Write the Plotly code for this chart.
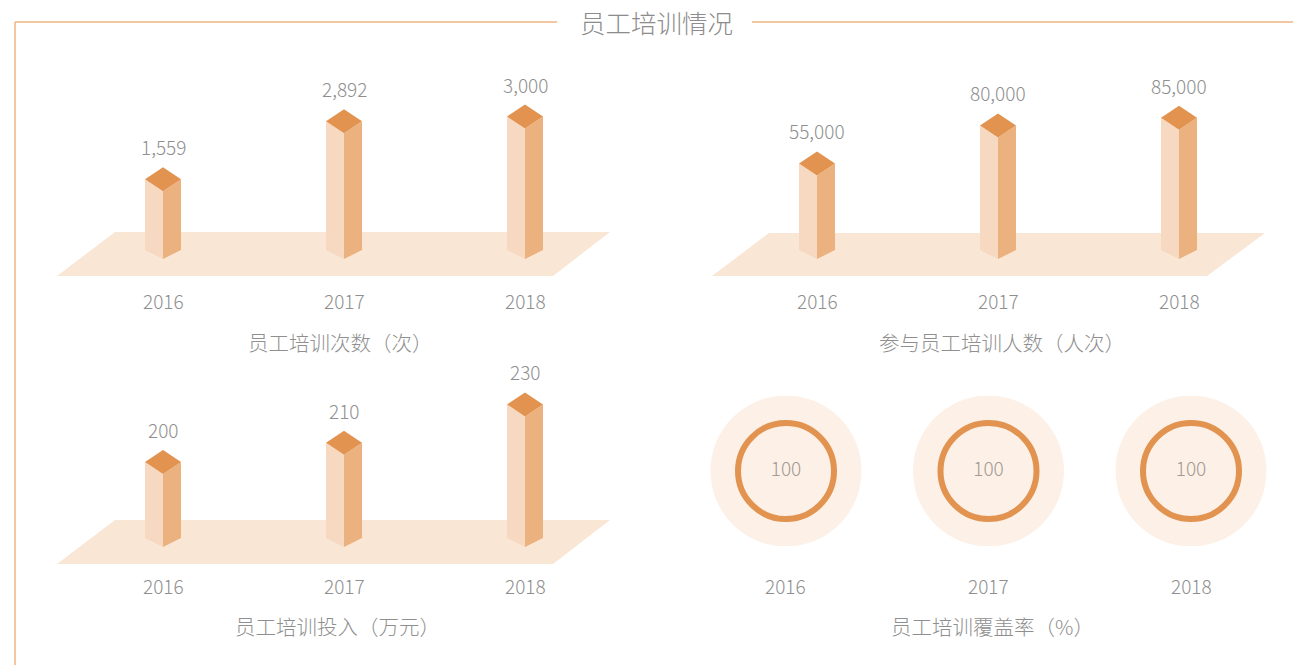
import plotly.graph_objects as go

# data
years = ["2016", "2017", "2018"]
sessions = [1559, 2892, 3000]          # 员工培训次数（次）
participants = [55000, 80000, 85000]   # 参与员工培训人数（人次）
investment = [200, 210, 230]           # 员工培训投入（万元）
coverage = [100, 100, 100]             # 员工培训覆盖率（%）

W, H = 1293, 665
FONT = "Noto Sans CJK SC"
GREY = "#8f8f8f"
TOP = "#e1934f"
FRONT = "#f7d9c1"
SIDE = "#ebb17f"
FLOOR = "#f9e6d5"
PALE = "#fcf0e7"
FRAME = "#efb482"


def xp(p):
    return p / W


def yp(p):
    return 1 - p / H


fig = go.Figure()
annotations = []


def label_font(size=19, color=GREY):
    return dict(family=FONT, size=size, color=color, weight=300)


def bar_panel(n, values, v0, k, base_px, c0, dom_x, dom_y, floor, year_y, subtitle, sub_xy):
    xa, ya = "x%d" % n, "y%d" % n
    s = 181.0
    L, R = dom_x
    T, B = dom_y
    xr = [(L - c0) / s, (R - c0) / s]
    yr = [v0 - (B - base_px) / k, v0 + (base_px - T) / k]
    sfx = "" if n == 1 else str(n)
    fig.layout["xaxis" + sfx] = dict(domain=[xp(L), xp(R)], range=xr, visible=False,
                                     anchor=ya, fixedrange=True)
    fig.layout["yaxis" + sfx] = dict(domain=[yp(B), yp(T)], range=yr, visible=False,
                                     anchor=xa, fixedrange=True)

    def dx(p):
        return p / s

    def dy(p):
        return p / k

    # floor
    (ft, ftl, ftr), (fb, fbl, fbr) = floor
    fx = [dx(ftl - c0), dx(ftr - c0), dx(fbr - c0), dx(fbl - c0), dx(ftl - c0)]
    fy = [v0 + dy(base_px - ft)] * 2 + [v0 - dy(fb - base_px)] * 2 + [v0 + dy(base_px - ft)]
    fig.add_trace(go.Scatter(x=fx, y=fy, xaxis=xa, yaxis=ya, fill="toself", mode="lines",
                             fillcolor=FLOOR, line=dict(width=0, color=FLOOR),
                             hoverinfo="skip", showlegend=False))

    w, t, b, ap = dx(18), dy(12), dy(9), dy(24)
    for i, v in enumerate(values):
        faces = [
            ([i - w, i, i, i - w, i - w], [v0 + b, v0, v, v + t, v0 + b], FRONT),
            ([i, i + w, i + w, i, i], [v0, v0 + b, v + t, v, v0], SIDE),
            ([i, i - w, i, i + w, i], [v, v + t, v + ap, v + t, v], TOP),
        ]
        for x, y, c in faces:
            fig.add_trace(go.Scatter(x=x, y=y, xaxis=xa, yaxis=ya, fill="toself",
                                     mode="lines", fillcolor=c, line=dict(width=0, color=c),
                                     hoverinfo="skip", showlegend=False))
        annotations.append(dict(x=i, y=v + ap, xref=xa, yref=ya, text=f"{v:,}",
                                showarrow=False, yanchor="bottom", yshift=5,
                                font=label_font()))
        annotations.append(dict(x=i, y=yp(year_y), xref=xa, yref="paper", text=years[i],
                                showarrow=False, yanchor="middle", font=label_font()))
    annotations.append(dict(x=xp(sub_xy[0]), y=yp(sub_xy[1]), xref="paper", yref="paper",
                            text=subtitle, showarrow=False, xanchor="center",
                            yanchor="middle", font=label_font(20.5)))


bar_panel(1, sessions, 0, 0.0435, 259, 163, (40, 640), (40, 290),
          ((232, 115, 610), (276, 57, 553)), 300, "员工培训次数（次）", (340, 342))
bar_panel(2, participants, 0, 0.00152, 259, 817, (695, 1285), (40, 290),
          ((233, 769, 1265), (276, 712, 1207)), 300, "参与员工培训人数（人次）", (1002, 342))
bar_panel(3, investment, 162, 1.92, 547, 163, (40, 640), (360, 578),
          ((520, 115, 610), (564, 57, 553)), 585, "员工培训投入（万元）", (337, 626))

# coverage rings
c0, s = 786, 202.5
L, R, T, B = 690, 1290, 396, 546
fig.layout["xaxis4"] = dict(domain=[xp(L), xp(R)], range=[(L - c0) / s, (R - c0) / s],
                            visible=False, anchor="y4", fixedrange=True)
fig.layout["yaxis4"] = dict(domain=[yp(B), yp(T)], range=[0, 1], visible=False,
                            anchor="x4", fixedrange=True)
xs = list(range(len(coverage)))
fig.add_trace(go.Scatter(x=xs, y=[0.5] * 3, xaxis="x4", yaxis="y4", mode="markers",
                         marker=dict(size=151, color=PALE, line=dict(width=0)),
                         hoverinfo="skip", showlegend=False))
fig.add_trace(go.Scatter(x=xs, y=[0.5] * 3, xaxis="x4", yaxis="y4", mode="markers+text",
                         marker=dict(size=96, color=PALE, line=dict(width=6, color=TOP)),
                         text=[str(v) for v in coverage], textposition="middle center",
                         textfont=label_font(19, "#a39a92"),
                         hoverinfo="skip", showlegend=False))
for i, yr in enumerate(years):
    annotations.append(dict(x=i, y=yp(585), xref="x4", yref="paper", text=yr,
                            showarrow=False, yanchor="middle", font=label_font()))
annotations.append(dict(x=xp(992), y=yp(626), xref="paper", yref="paper",
                        text="员工培训覆盖率（%）", showarrow=False, xanchor="center",
                        yanchor="middle", font=label_font(20.5)))

# frame and title
annotations.append(dict(x=xp(656), y=yp(22), xref="paper", yref="paper", text="员工培训情况",
                        showarrow=False, xanchor="center", yanchor="middle",
                        font=label_font(25.5, "#8c8c8c")))
line = dict(color=FRAME, width=1.5)
shapes = [
    dict(type="line", xref="paper", yref="paper", x0=xp(15), x1=xp(15), y0=yp(22), y1=0, line=line),
    dict(type="line", xref="paper", yref="paper", x0=xp(15), x1=xp(557), y0=yp(22), y1=yp(22), line=line),
    dict(type="line", xref="paper", yref="paper", x0=xp(752), x1=1, y0=yp(22), y1=yp(22), line=line),
]

fig.update_layout(
    width=W, height=H, margin=dict(l=0, r=0, t=0, b=0),
    paper_bgcolor="white", plot_bgcolor="rgba(0,0,0,0)",
    annotations=annotations, shapes=shapes, showlegend=False,
)

fig.write_html("out.html", config={"displayModeBar": False},
               post_script="document.body.style.margin='0';")
